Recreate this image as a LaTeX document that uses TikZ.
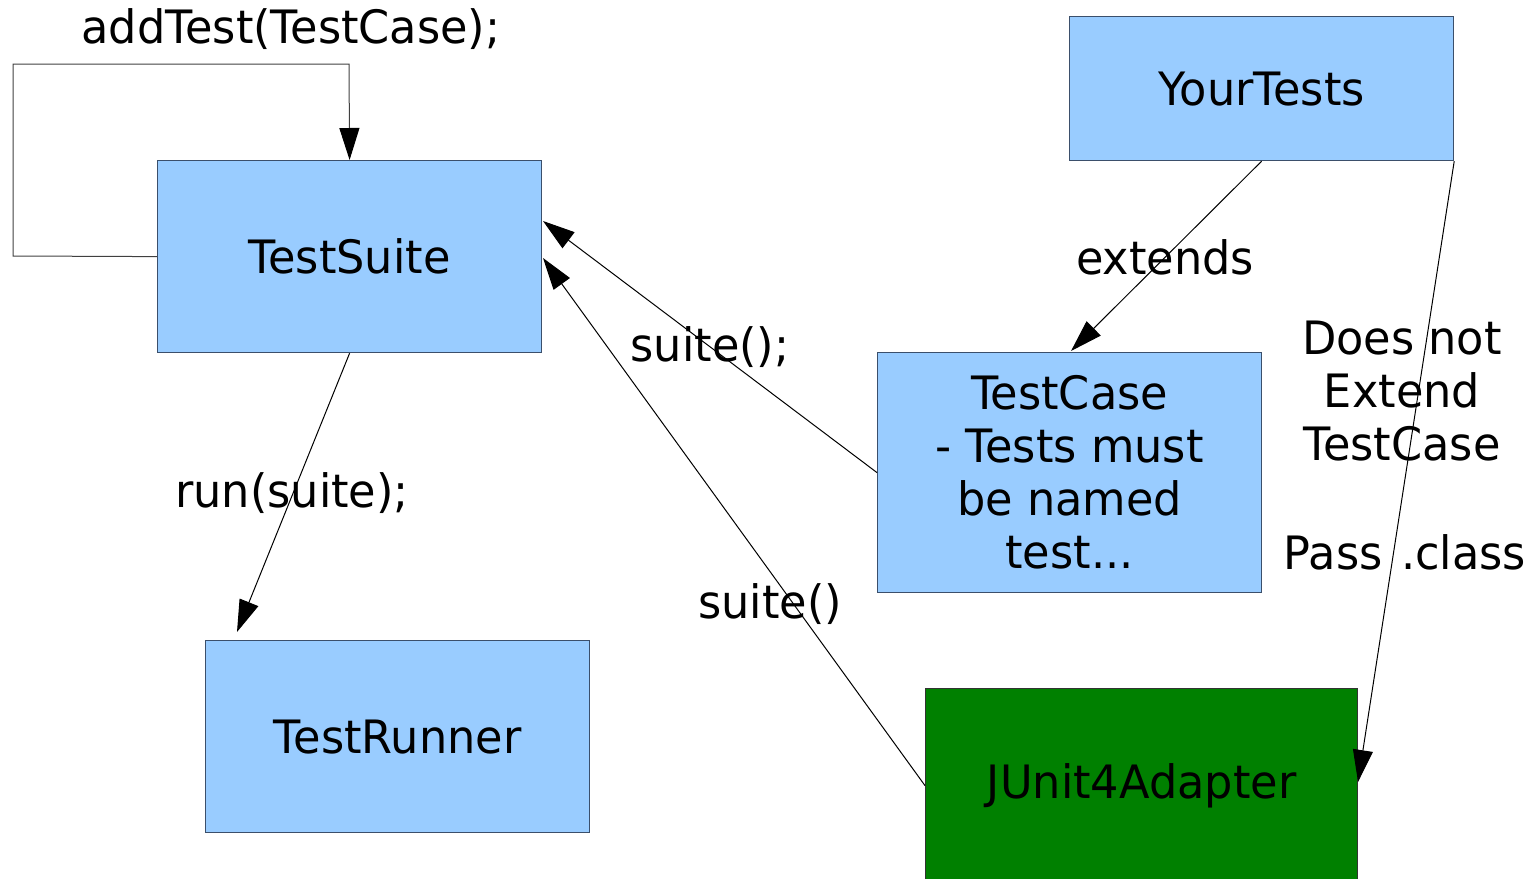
\documentclass[tikz,border=0pt]{standalone}
\usepackage{fontspec}
\setmainfont{DejaVu Sans}[FakeStretch=0.97]
\usetikzlibrary{arrows.meta}
\definecolor{boxfill}{HTML}{99CCFF}
\definecolor{boxline}{HTML}{3B4F6B}
\definecolor{adapt}{HTML}{008000}
\begin{document}
\begin{tikzpicture}[x=0.5pt,y=-0.5pt,
  box/.style={draw=boxline, fill=boxfill, line width=0.6pt, inner sep=0pt, anchor=north west,
    minimum width=192pt, align=center, font=\fontsize{23pt}{26.5pt}\selectfont},
  lbl/.style={inner sep=0pt, align=center, font=\fontsize{23pt}{26.5pt}\selectfont},
  conn/.style={draw=black, line width=0.5pt, -{Triangle[length=16pt,width=10pt,color=black]}}]
\useasboundingbox (0,0) rectangle (1530,878);
% boxes
\node[box, minimum height=96pt] (ts) at (157,160) {TestSuite};
\node[box, minimum height=96pt] (tr) at (205,640) {TestRunner};
\node[box, minimum height=72pt] (yt) at (1069,16) {YourTests};
\node[box, minimum height=120pt] (tc) at (877,352) {TestCase\\- Tests must\\be named\\test...};
\node[box, fill=adapt, draw=black!80, minimum width=216pt, minimum height=97pt] (ja) at (925,688) {JUnit4Adapter};
% helper coordinates
\coordinate (loopa) at (13,256);
\coordinate (loopb) at (13,64);
\coordinate (loopc) at (349,64);
\coordinate (trtip) at (237,632);
\coordinate (tsin1) at (543,221);
\coordinate (tsin2) at (543,258);
\coordinate (tctop) at (1071,351);
\coordinate (jatip) at (1358,782);
% connectors
\draw[conn, draw=black!75] (ts.west) -- (loopa) -- (loopb) -- (loopc) -- (ts.north);
\draw[conn] (ts.south) -- (trtip);
\draw[conn] (tc.west) -- (tsin1);
\draw[conn] (ja.west) -- (tsin2);
\draw[conn] (yt.south) -- (tctop);
\draw[conn] (yt.south east) -- (jatip);
% labels
\node[lbl] (l1) at (291,29) {addTest(TestCase);};
\node[lbl] (l2) at (292,493) {run(suite);};
\node[lbl] (l3) at (710,347) {suite();};
\node[lbl] (l4) at (770,604) {suite()};
\node[lbl] (l5) at (1165,257) {extends};
\node[lbl] (l6) at (1402,391) {Does not\\Extend\\TestCase};
\node[lbl] (l7) at (1405,552) {Pass\hspace{0.4em}.class};
\end{tikzpicture}
\end{document}
